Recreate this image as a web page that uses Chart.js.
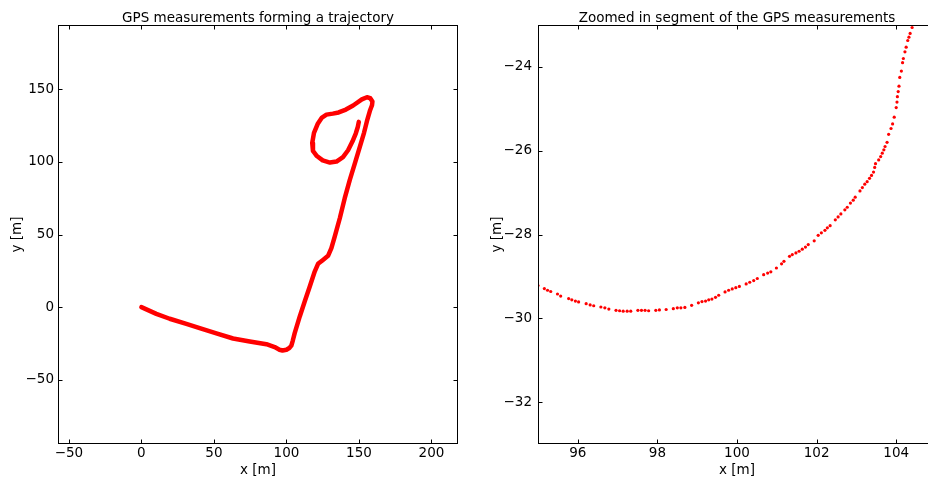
<!DOCTYPE html>
<html>
<head>
<meta charset="utf-8">
<script src="https://cdn.jsdelivr.net/npm/chart.js@4.4.0/dist/chart.umd.min.js"></script>
<style>
    html, body { margin: 0; padding: 0; background: #fff; overflow: hidden; }
    .panel { position: absolute; top: 0; }
</style>
</head>
<body>
<div class="panel" style="left:0px"><canvas id="trajChart" width="470" height="477"></canvas></div>
<div class="panel" style="left:470px"><canvas id="zoomChart" width="470" height="477"></canvas></div>
<script>
// ================================================
// GPS TRAJECTORY + ZOOMED SEGMENT
// ================================================

// Full trajectory
const trajX = [0, 10.3, 19.5, 31.0, 40.2, 51.7, 63.2, 74.7, 86.2, 91.9, 95.2, 97.3, 100.0, 102.0, 103.4, 104.4,
    105.7, 109.2, 112.6, 116.1, 119.5, 121.8, 125.2, 128.7, 131.0, 133.3, 136.8, 140.2, 143.7, 147.5, 150.5,
    153.5, 155.5, 157.5, 159.0, 159.3, 157.8, 155.5, 152.0, 146.0, 141.0, 136.0, 132.0, 127.6, 124.5,
    121.5, 119.0, 117.8, 118.3, 121.0, 125.0, 130.0, 134.5, 139.0, 142.5, 145.5, 147.8, 149.2, 149.9];
const trajY = [0, -4.6, -8.0, -11.5, -14.5, -18.1, -21.6, -23.6, -25.5, -27.5, -29.3, -29.8, -29.3, -28.1, -26.5, -23.0,
    -17.9, -6.4, 3.9, 14.2, 24.5, 29.8, 32.5, 35.3, 40.6, 48.6, 61.2, 75.0, 87.6, 100.0, 110.0,
    120.0, 128.0, 135.0, 139.0, 141.5, 143.8, 144.5, 143.0, 138.8, 136.0, 134.0, 133.2, 132.5, 130.5,
    126.0, 120.0, 113.0, 107.5, 104.0, 101.0, 99.5, 100.2, 103.3, 108.0, 114.0, 119.5, 124.0, 127.5];

// Zoomed segment
const zoomX = [95.00, 95.16, 95.24, 95.32, 95.49, 95.57, 95.77, 95.85, 95.94, 96.02, 96.21, 96.31, 96.40, 96.58,
    96.68, 96.78, 96.96, 97.05, 97.14, 97.24, 97.33, 97.51, 97.60, 97.69, 97.78, 97.96, 98.05, 98.22, 98.40,
    98.50, 98.59, 98.69, 98.86, 99.03, 99.12, 99.21, 99.29, 99.37, 99.46, 99.54, 99.70, 99.79, 99.88, 99.97,
    100.06, 100.23, 100.32, 100.42, 100.51, 100.67, 100.77, 100.85, 100.99, 101.12, 101.18, 101.32, 101.39,
    101.48, 101.56, 101.64, 101.72, 101.79, 101.94, 102.04, 102.12, 102.21, 102.27, 102.34, 102.47, 102.54,
    102.61, 102.71, 102.77, 102.85, 102.92, 102.97, 103.09, 103.15, 103.21, 103.27, 103.33, 103.38, 103.43,
    103.46, 103.48, 103.56, 103.61, 103.65, 103.69, 103.72, 103.77, 103.81, 103.87, 103.91, 103.95, 104.00,
    104.02, 104.03, 104.05, 104.07, 104.09, 104.13, 104.16, 104.18, 104.22, 104.25, 104.29, 104.32, 104.35,
    104.40];
const zoomY = [-29.22, -29.29, -29.33, -29.36, -29.42, -29.47, -29.53, -29.56, -29.59, -29.61, -29.65, -29.68,
    -29.70, -29.73, -29.75, -29.78, -29.81, -29.82, -29.83, -29.83, -29.83, -29.81, -29.81, -29.81, -29.82,
    -29.81, -29.80, -29.79, -29.77, -29.75, -29.75, -29.74, -29.69, -29.63, -29.60, -29.59, -29.56, -29.54,
    -29.50, -29.45, -29.37, -29.33, -29.30, -29.27, -29.24, -29.18, -29.14, -29.10, -29.05, -28.96, -28.92,
    -28.89, -28.80, -28.70, -28.64, -28.52, -28.48, -28.44, -28.40, -28.35, -28.30, -28.24, -28.15, -28.02,
    -27.96, -27.90, -27.84, -27.79, -27.65, -27.58, -27.51, -27.41, -27.35, -27.25, -27.18, -27.11, -26.96,
    -26.88, -26.80, -26.74, -26.66, -26.59, -26.51, -26.40, -26.31, -26.22, -26.14, -26.06, -25.98, -25.90,
    -25.80, -25.61, -25.47, -25.36, -25.20, -24.97, -24.84, -24.71, -24.59, -24.46, -24.25, -24.10, -23.90,
    -23.80, -23.64, -23.53, -23.37, -23.29, -23.20, -23.06];

// Tick values
const trajXTicks = [-50, 0, 50, 100, 150, 200];
const trajYTicks = [-50, 0, 50, 100, 150];
const zoomXTicks = [96, 98, 100, 102, 104];
const zoomYTicks = [-32, -30, -28, -26, -24];

const FONT_SIZE = 13.5;
Chart.defaults.font.family = "'DejaVu Sans', sans-serif";
Chart.defaults.font.size = FONT_SIZE;
Chart.defaults.color = '#000';

function toPoints(xs, ys) {
    return xs.map((x, i) => ({ x: x, y: ys[i] }));
}

function fmt(v) {
    return v < 0 ? '\u2212' + Math.abs(v) : String(v);
}

// Box around the plot area, inward ticks on every side, title above
const frameBox = {
    id: 'frameBox',
    afterDraw(chart, args, opts) {
        const ctx = chart.ctx;
        const a = chart.chartArea;
        const L = Math.round(a.left) + 0.5, R = Math.round(a.right) - 0.5;
        const T = Math.round(a.top) + 0.5, B = Math.round(a.bottom) - 0.5;
        ctx.save();
        ctx.strokeStyle = '#000';
        ctx.lineWidth = 1;
        ctx.strokeRect(L, T, R - L, B - T);
        ctx.beginPath();
        chart.scales.x.ticks.forEach(t => {
            const px = Math.round(chart.scales.x.getPixelForValue(t.value)) + 0.5;
            ctx.moveTo(px, B); ctx.lineTo(px, B - 4);
            ctx.moveTo(px, T); ctx.lineTo(px, T + 4);
        });
        chart.scales.y.ticks.forEach(t => {
            const py = Math.round(chart.scales.y.getPixelForValue(t.value)) + 0.5;
            ctx.moveTo(L, py); ctx.lineTo(L + 4, py);
            ctx.moveTo(R, py); ctx.lineTo(R - 4, py);
        });
        ctx.stroke();
        ctx.fillStyle = '#000';
        ctx.font = FONT_SIZE + "px 'DejaVu Sans', sans-serif";
        ctx.textAlign = 'center';
        ctx.textBaseline = 'alphabetic';
        ctx.fillText(opts.text, (a.left + a.right) / 2, a.top - 3.5);
        ctx.restore();
    }
};

function makeChart(canvasId, datasets, cfg) {
    return new Chart(document.getElementById(canvasId), {
        type: 'scatter',
        data: { datasets: datasets },
        plugins: [frameBox],
        options: {
            responsive: false,
            animation: false,
            devicePixelRatio: 1,
            layout: { padding: { left: 0, top: 25, right: cfg.padRight, bottom: 0 } },
            plugins: {
                legend: { display: false },
                tooltip: { enabled: false },
                frameBox: { text: cfg.title }
            },
            scales: {
                x: {
                    type: 'linear',
                    min: cfg.xMin,
                    max: cfg.xMax,
                    grid: { display: false, drawTicks: false },
                    border: { display: false },
                    afterBuildTicks: s => { s.ticks = cfg.xTicks.map(v => ({ value: v })); },
                    afterFit: s => { s.height = 33; },
                    ticks: { padding: 1.5, maxRotation: 0, autoSkip: false, callback: v => fmt(v) },
                    title: { display: true, text: 'x [m]', padding: { top: 0, bottom: -1.5 } }
                },
                y: {
                    type: 'linear',
                    min: cfg.yMin,
                    max: cfg.yMax,
                    grid: { display: false, drawTicks: false },
                    border: { display: false },
                    afterBuildTicks: s => { s.ticks = cfg.yTicks.map(v => ({ value: v })); },
                    afterFit: s => { s.width = cfg.yWidth; },
                    ticks: { padding: cfg.yPad, autoSkip: false, callback: v => fmt(v) },
                    title: { display: true, text: 'y [m]', padding: { top: cfg.yTitlePad, bottom: 0 } }
                }
            }
        }
    });
}

makeChart('trajChart', [{
    data: toPoints(trajX, trajY),
    showLine: true,
    borderColor: '#ff0000',
    borderWidth: 4.5,
    borderJoinStyle: 'round',
    borderCapStyle: 'round',
    pointRadius: 0,
    tension: 0
}], {
    title: 'GPS measurements forming a trajectory',
    xMin: -57.5, xMax: 218.3, yMin: -94.2, yMax: 194.2,
    xTicks: trajXTicks, yTicks: trajYTicks,
    yWidth: 58, yPad: 4, yTitlePad: 9, padRight: 12
});

makeChart('zoomChart', [{
    data: toPoints(zoomX, zoomY),
    showLine: false,
    backgroundColor: '#ff0000',
    borderWidth: 0,
    pointRadius: 1.6
}], {
    title: 'Zoomed in segment of the GPS measurements',
    xMin: 95, xMax: 105, yMin: -33, yMax: -23,
    xTicks: zoomXTicks, yTicks: zoomYTicks,
    yWidth: 68, yPad: 6, yTitlePad: 19, padRight: 2
});
</script>
</body>
</html>
